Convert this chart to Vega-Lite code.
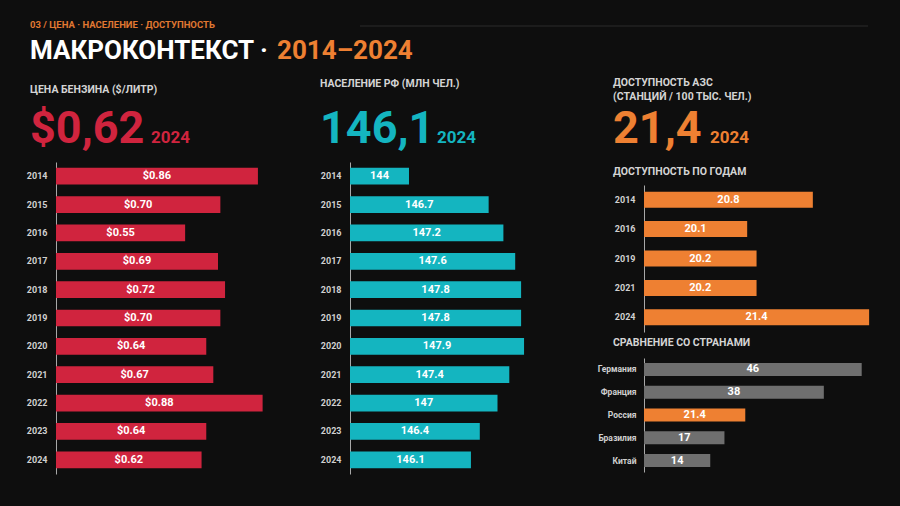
{
  "$schema": "https://vega.github.io/schema/vega-lite/v6.json",
  "background": "#0e0e0e",
  "padding": {"left": 26, "top": 0, "right": 25, "bottom": 32},
  "config": {
    "view": {"stroke": null},
    "font": "Roboto",
    "axis": {
      "labelFont": "Roboto",
      "labelFontWeight": "bold",
      "labelFontSize": 9,
      "labelColor": "#d0d0d0",
      "labelPadding": 9,
      "ticks": false,
      "grid": false,
      "domainColor": "#a8a8a8",
      "domainWidth": 1,
      "title": null
    },
    "title": {
      "font": "Roboto",
      "fontSize": 10.5,
      "fontWeight": "bold",
      "color": "#d4d4d4",
      "anchor": "start",
      "frame": "group",
      "baseline": "alphabetic"
    }
  },
  "datasets": {
    "hdr": [{
      "kicker": "03 / ЦЕНА · НАСЕЛЕНИЕ · ДОСТУПНОСТЬ",
      "title": "МАКРОКОНТЕКСТ ·",
      "range": "2014–2024",
      "l1": "ЦЕНА БЕНЗИНА ($/ЛИТР)",
      "b1": "$0,62",
      "l2": "НАСЕЛЕНИЕ РФ (МЛН ЧЕЛ.)",
      "b2": "146,1",
      "l3a": "ДОСТУПНОСТЬ АЗС",
      "l3b": "(СТАНЦИЙ / 100 ТЫС. ЧЕЛ.)",
      "b3": "21,4",
      "yr": "2024"
    }],
    "price": [
      {"year": 2014, "price": 0.86},
      {"year": 2015, "price": 0.70},
      {"year": 2016, "price": 0.55},
      {"year": 2017, "price": 0.69},
      {"year": 2018, "price": 0.72},
      {"year": 2019, "price": 0.70},
      {"year": 2020, "price": 0.64},
      {"year": 2021, "price": 0.67},
      {"year": 2022, "price": 0.88},
      {"year": 2023, "price": 0.64},
      {"year": 2024, "price": 0.62}
    ],
    "pop": [
      {"year": 2014, "pop": 144},
      {"year": 2015, "pop": 146.7},
      {"year": 2016, "pop": 147.2},
      {"year": 2017, "pop": 147.6},
      {"year": 2018, "pop": 147.8},
      {"year": 2019, "pop": 147.8},
      {"year": 2020, "pop": 147.9},
      {"year": 2021, "pop": 147.4},
      {"year": 2022, "pop": 147},
      {"year": 2023, "pop": 146.4},
      {"year": 2024, "pop": 146.1}
    ],
    "access": [
      {"year": 2014, "access": 20.8},
      {"year": 2016, "access": 20.1},
      {"year": 2019, "access": 20.2},
      {"year": 2021, "access": 20.2},
      {"year": 2024, "access": 21.4}
    ],
    "compare": [
      {"country": "Германия", "value": 46},
      {"country": "Франция", "value": 38},
      {"country": "Россия", "value": 21.4},
      {"country": "Бразилия", "value": 17},
      {"country": "Китай", "value": 14}
    ]
  },
  "vconcat": [
    {
      "width": 840,
      "height": 70,
      "data": {"name": "hdr"},
      "layer": [
        {"mark": {"type": "rule", "color": "#2a2a2a", "strokeWidth": 1}, "encoding": {"x": {"value": 304}, "x2": {"value": 812}, "y": {"value": 26}}},
        {"mark": {"type": "text", "align": "left", "baseline": "middle", "fontSize": 9.5, "fontWeight": "bold", "color": "#e07832"}, "encoding": {"x": {"value": -26}, "y": {"value": 25}, "text": {"field": "kicker"}}},
        {"mark": {"type": "text", "align": "left", "baseline": "alphabetic", "fontSize": 26, "fontWeight": "bold", "color": "#ffffff"}, "encoding": {"x": {"value": -26}, "y": {"value": 59}, "text": {"field": "title"}}},
        {"mark": {"type": "text", "align": "left", "baseline": "alphabetic", "fontSize": 26, "fontWeight": "bold", "color": "#ee8032"}, "encoding": {"x": {"value": 221}, "y": {"value": 59}, "text": {"field": "range"}}}
      ]
    },
    {
      "hconcat": [
        {
          "vconcat": [
            {
              "width": 200,
              "height": 80,
              "data": {"name": "hdr"},
              "layer": [
                {"mark": {"type": "text", "align": "left", "baseline": "middle", "fontSize": 10.5, "fontWeight": "bold", "color": "#d4d4d4"}, "encoding": {"x": {"value": -26}, "y": {"value": 19.5}, "text": {"field": "l1"}}},
                {"mark": {"type": "text", "align": "left", "baseline": "alphabetic", "fontSize": 45, "fontWeight": "bold", "color": "#d0243e"}, "encoding": {"x": {"value": -26}, "y": {"value": 73}, "text": {"field": "b1"}}},
                {"mark": {"type": "text", "align": "left", "baseline": "alphabetic", "fontSize": 17, "fontWeight": "bold", "color": "#d0243e"}, "encoding": {"x": {"value": 95}, "y": {"value": 73}, "text": {"field": "yr"}}}
              ]
            },
            {
              "width": 254,
              "height": 312,
              "data": {"name": "price"},
              "encoding": {
                "y": {"field": "year", "type": "ordinal", "scale": {"paddingInner": 0.41, "paddingOuter": 0.205}, "axis": {}}
              },
              "layer": [
                {"mark": {"type": "bar", "color": "#d0243e"}, "encoding": {"x": {"field": "price", "type": "quantitative", "scale": {"domain": [0, 1.0818], "nice": false, "clamp": true}, "axis": null}}},
                {"mark": {"type": "text", "color": "#ffffff", "fontWeight": "bold", "fontSize": 11, "align": "center", "baseline": "middle"}, "encoding": {"x": {"field": "price", "type": "quantitative", "scale": {"domain": [0, 2.1636], "nice": false}, "axis": null}, "text": {"field": "price", "type": "quantitative", "format": "$.2f"}}}
              ],
              "resolve": {"scale": {"x": "independent"}}
            }
          ],
          "spacing": 12,
          "bounds": "flush"
        },
        {
          "vconcat": [
            {
              "width": 200,
              "height": 80,
              "data": {"name": "hdr"},
              "layer": [
                {"mark": {"type": "text", "align": "left", "baseline": "middle", "fontSize": 10.5, "fontWeight": "bold", "color": "#d4d4d4"}, "encoding": {"x": {"value": -30}, "y": {"value": 13.5}, "text": {"field": "l2"}}},
                {"mark": {"type": "text", "align": "left", "baseline": "alphabetic", "fontSize": 45, "fontWeight": "bold", "color": "#14b5c0"}, "encoding": {"x": {"value": -30}, "y": {"value": 73}, "text": {"field": "b2"}}},
                {"mark": {"type": "text", "align": "left", "baseline": "alphabetic", "fontSize": 17, "fontWeight": "bold", "color": "#14b5c0"}, "encoding": {"x": {"value": 87}, "y": {"value": 73}, "text": {"field": "yr"}}}
              ]
            },
            {
              "width": 237,
              "height": 312,
              "data": {"name": "pop"},
              "encoding": {
                "y": {"field": "year", "type": "ordinal", "scale": {"paddingInner": 0.41, "paddingOuter": 0.205}, "axis": {}}
              },
              "layer": [
                {"mark": {"type": "bar", "color": "#14b5c0"}, "encoding": {"x": {"field": "pop", "type": "quantitative", "scale": {"domain": [142, 150.034], "nice": false, "zero": false, "clamp": true}, "axis": null}}},
                {"mark": {"type": "text", "color": "#ffffff", "fontWeight": "bold", "fontSize": 11, "align": "center", "baseline": "middle"}, "encoding": {"x": {"field": "pop", "type": "quantitative", "scale": {"domain": [142, 158.068], "nice": false, "zero": false}, "axis": null}, "text": {"field": "pop", "type": "quantitative"}}}
              ],
              "resolve": {"scale": {"x": "independent"}}
            }
          ],
          "spacing": 12,
          "bounds": "flush"
        },
        {
          "vconcat": [
            {
              "width": 200,
              "height": 89,
              "data": {"name": "hdr"},
              "layer": [
                {"mark": {"type": "text", "align": "left", "baseline": "middle", "fontSize": 10.5, "fontWeight": "bold", "color": "#d4d4d4"}, "encoding": {"x": {"value": -31}, "y": {"value": 12.8}, "text": {"field": "l3a"}}},
                {"mark": {"type": "text", "align": "left", "baseline": "middle", "fontSize": 10.5, "fontWeight": "bold", "color": "#d4d4d4"}, "encoding": {"x": {"value": -31}, "y": {"value": 27}, "text": {"field": "l3b"}}},
                {"mark": {"type": "text", "align": "left", "baseline": "alphabetic", "fontSize": 45, "fontWeight": "bold", "color": "#ee8032"}, "encoding": {"x": {"value": -31}, "y": {"value": 73}, "text": {"field": "b3"}}},
                {"mark": {"type": "text", "align": "left", "baseline": "alphabetic", "fontSize": 17, "fontWeight": "bold", "color": "#ee8032"}, "encoding": {"x": {"value": 66}, "y": {"value": 73}, "text": {"field": "yr"}}}
              ]
            },
            {
              "width": 230,
              "height": 147,
              "title": {"text": "ДОСТУПНОСТЬ ПО ГОДАМ", "dx": -31, "offset": 8},
              "data": {"name": "access"},
              "encoding": {
                "y": {"field": "year", "type": "ordinal", "scale": {"paddingInner": 0.455, "paddingOuter": 0.2275}, "axis": {}}
              },
              "layer": [
                {"mark": {"type": "bar", "color": "#ee8032"}, "encoding": {"x": {"field": "access", "type": "quantitative", "scale": {"domain": [19, 21.452], "nice": false, "zero": false, "clamp": true}, "axis": null}}},
                {"mark": {"type": "text", "color": "#ffffff", "fontWeight": "bold", "fontSize": 11, "align": "center", "baseline": "middle"}, "encoding": {"x": {"field": "access", "type": "quantitative", "scale": {"domain": [19, 23.904], "nice": false, "zero": false}, "axis": null}, "text": {"field": "access", "type": "quantitative"}}}
              ],
              "resolve": {"scale": {"x": "independent"}}
            },
            {
              "width": 230,
              "height": 114,
              "title": {"text": "СРАВНЕНИЕ СО СТРАНАМИ", "dx": -31, "offset": 9.5},
              "data": {"name": "compare"},
              "encoding": {
                "y": {"field": "country", "type": "nominal", "sort": ["Германия", "Франция", "Россия", "Бразилия", "Китай"], "scale": {"paddingInner": 0.43, "paddingOuter": 0.215}, "axis": {"labelFontSize": 8.5, "labelPadding": 8}}
              },
              "layer": [
                {"mark": {"type": "bar"}, "encoding": {
                  "x": {"field": "value", "type": "quantitative", "scale": {"domain": [0, 48.6], "nice": false, "clamp": true}, "axis": null},
                  "color": {"condition": {"test": "datum.country === 'Россия'", "value": "#ee8032"}, "value": "#6f6f6f"}
                }},
                {"mark": {"type": "text", "color": "#ffffff", "fontWeight": "bold", "fontSize": 11, "align": "center", "baseline": "middle"}, "encoding": {"x": {"field": "value", "type": "quantitative", "scale": {"domain": [0, 97.2], "nice": false}, "axis": null}, "text": {"field": "value", "type": "quantitative"}}}
              ],
              "resolve": {"scale": {"x": "independent"}}
            }
          ],
          "spacing": 26,
          "bounds": "flush"
        }
      ],
      "spacing": 10,
      "bounds": "full"
    }
  ],
  "spacing": 0,
  "bounds": "flush"
}
